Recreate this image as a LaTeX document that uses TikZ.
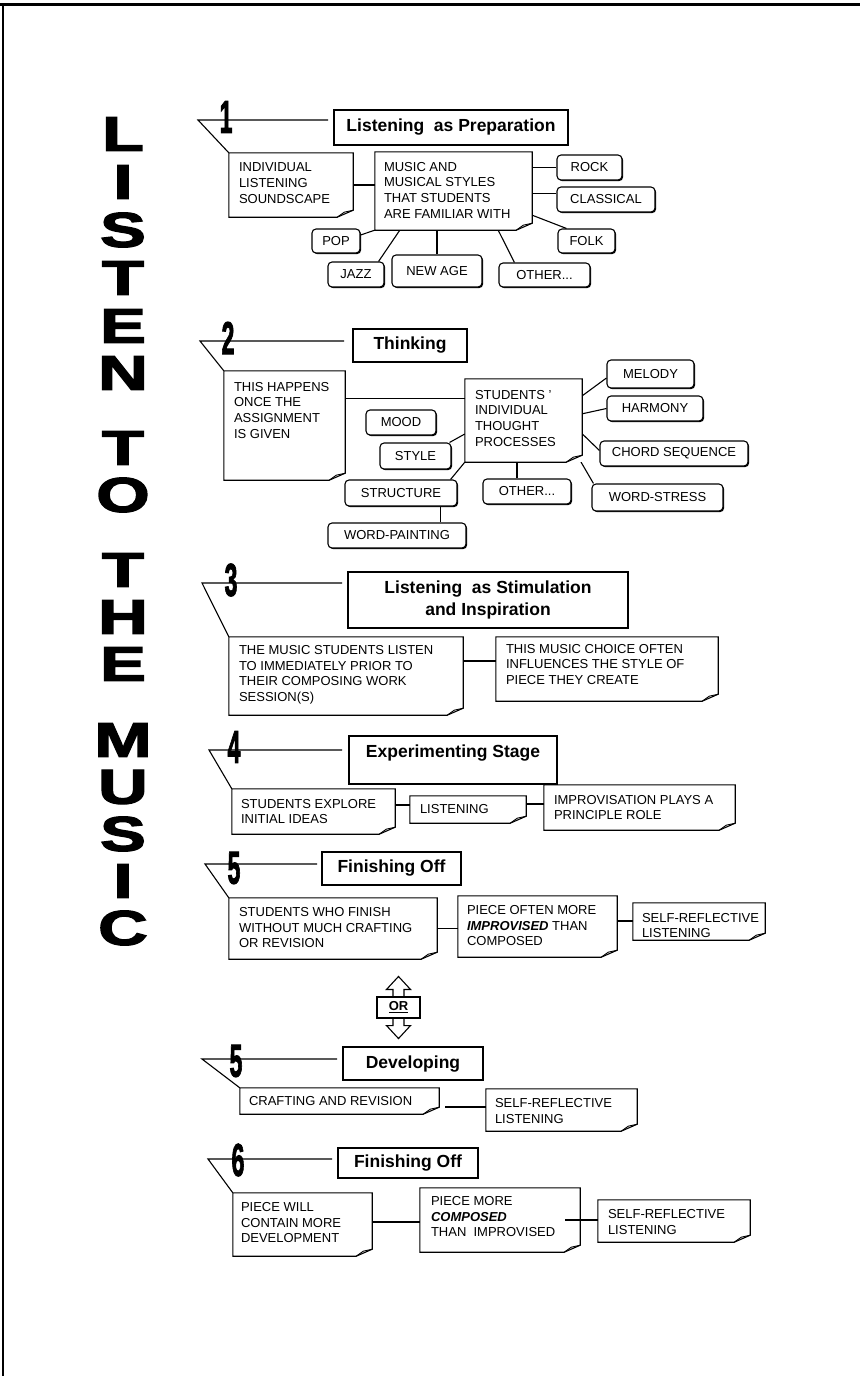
\documentclass[tikz,border=0pt]{standalone}
\usepackage{fontspec}
\setmainfont{Liberation Sans}
\newfontfamily\heavyfont{Liberation Sans}[BoldFeatures={FakeBold=2.5}]
\usetikzlibrary{shadows}
\pgfdeclarelayer{bg}
\pgfsetlayers{bg,main}
\newcommand{\smf}{\fontsize{13}{15.7}\selectfont}
\newcommand{\ttf}{\fontsize{17.5}{22}\selectfont\bfseries}
\newcommand{\digf}{\fontsize{46}{46}\selectfont\heavyfont\bfseries}
\newcommand{\bigf}{\fontsize{49}{49}\selectfont\heavyfont\bfseries}
\tikzset{
  shad/.style={drop shadow={shadow xshift=1.1pt,shadow yshift=-1.1pt,opacity=1,fill=black}},
  tbox/.style={draw, fill=white, line width=1.1pt, font=\ttf, inner sep=0pt, align=center, shad},
  ttxt/.style={font=\ttf, inner sep=0pt},
  rbox/.style={draw, fill=white, rounded corners=4pt, line width=1.1pt, font=\smf, inner sep=0pt, shad},
  nbox/.style={fill=white, draw=none, inner sep=0pt},
  noteline/.style={line width=1.1pt, line join=miter},
  txt/.style={font=\smf, align=left, inner sep=0pt, anchor=north west},
  conn/.style={line width=1.1pt},
  digit/.style={font=\digf, inner sep=0pt},
  bigl/.style={font=\bigf, inner sep=0pt},
}
\newcommand{\noteshape}[1]{%
  \draw[noteline] (#1.north west) -- (#1.north east) -- ([yshift=7pt]#1.south east) -- ([xshift=-16pt]#1.south east) -- (#1.south west) -- cycle;
  \draw[line width=1.5pt] ([xshift=0.5pt]#1.north east) -- ([xshift=0.5pt,yshift=7pt]#1.south east);
  \draw[line width=1.5pt] ([yshift=-0.5pt]#1.south west) -- ([xshift=-16pt,yshift=-0.5pt]#1.south east);
  \draw[line width=0.9pt, line join=miter] ([yshift=7pt]#1.south east) -- ([xshift=-9pt,yshift=5pt]#1.south east) -- ([xshift=-16pt]#1.south east);
}
\begin{document}
\begin{tikzpicture}[x=1pt,y=-1pt]
\begin{pgfonlayer}{bg}
  \fill[white] (0,0) rectangle (860,1376);
\end{pgfonlayer}
\useasboundingbox (0,0) rectangle (860,1376);
\draw[line width=3pt] (0,4) -- (860,4);
\draw[line width=2pt] (3,3) -- (3,1376);

% ---------- vertical title ----------
\node[bigl] (v1) at (123,134) {\scalebox{1.4}[1]{L}};
\node[bigl] (v2) at (123,182) {\scalebox{1.4}[1]{I}};
\node[bigl] (v3) at (123,230) {\scalebox{1.4}[1]{S}};
\node[bigl] (v4) at (123,278) {\scalebox{1.4}[1]{T}};
\node[bigl] (v5) at (123,326) {\scalebox{1.4}[1]{E}};
\node[bigl] (v6) at (123,373) {\scalebox{1.4}[1]{N}};
\node[bigl] (v7) at (123,448) {\scalebox{1.4}[1]{T}};
\node[bigl] (v8) at (123,495) {\scalebox{1.4}[1]{O}};
\node[bigl] (v9) at (123,570) {\scalebox{1.4}[1]{T}};
\node[bigl] (v10) at (123,617) {\scalebox{1.4}[1]{H}};
\node[bigl] (v11) at (123,664) {\scalebox{1.4}[1]{E}};
\node[bigl] (v12) at (123,740) {\scalebox{1.4}[1]{M}};
\node[bigl] (v13) at (123,787) {\scalebox{1.4}[1]{U}};
\node[bigl] (v14) at (123,834) {\scalebox{1.4}[1]{S}};
\node[bigl] (v15) at (123,881) {\scalebox{1.4}[1]{I}};
\node[bigl] (v16) at (123,928) {\scalebox{1.4}[1]{C}};

% ---------- section 1 ----------
\node[tbox, minimum width=234, minimum height=35] (T1) at (451,127.5) {Listening\ \ as Preparation};
\node[nbox, minimum width=124, minimum height=64] (A1) at (291,185) {};
\noteshape{A1}
\node[txt] (A1t) at ([shift={(10,10)}]A1.north west) {INDIVIDUAL\\LISTENING\\SOUNDSCAPE};
\node[nbox, minimum width=157, minimum height=78] (B1) at (453.5,191) {};
\noteshape{B1}
\node[txt] (B1t) at ([shift={(9,10)}]B1.north west) {MUSIC AND\\MUSICAL STYLES\\THAT STUDENTS\\ARE FAMILIAR WITH};
\node[rbox, minimum width=65, minimum height=25] (R1) at (589.5,167.5) {ROCK};
\node[rbox, minimum width=98, minimum height=25] (C1) at (606,199.5) {CLASSICAL};
\node[rbox, minimum width=57, minimum height=24] (F1) at (586.5,241) {FOLK};
\node[rbox, minimum width=48, minimum height=24] (P1) at (336,241) {POP};
\node[rbox, minimum width=56, minimum height=25] (J1) at (356,274.5) {JAZZ};
\node[rbox, minimum width=90, minimum height=32] (N1) at (437,271) {NEW AGE};
\node[rbox, minimum width=91, minimum height=24] (O1) at (544.5,275) {OTHER...};
\coordinate (h1) at (198,120);
\coordinate (h1e) at (328,120);
\coordinate (c1c) at ([yshift=6pt]C1.west);
\begin{pgfonlayer}{bg}
  \draw[conn] (h1e) -- (h1) -- (A1.north west);
  \draw[conn] (A1.east) -- (A1.east -| B1.west);
  \draw[conn] (R1.west -| B1.east) -- (R1.west);
  \draw[conn] (c1c -| B1.east) -- (c1c);
  \draw[conn] ([yshift=15pt]B1.south east) -- ([xshift=9pt]F1.north west);
  \draw[conn] ([yshift=6pt]P1.east) -- (B1.south west);
  \draw[conn] ([xshift=-6pt]J1.north east) -- ([xshift=25pt]B1.south west);
  \draw[conn] (N1.north) -- (N1.north |- B1.south);
  \draw[conn] ([xshift=16pt]O1.north west) -- ([xshift=-34pt]B1.south east);
\end{pgfonlayer}
\node[digit] (n1) at (226,117) {\scalebox{0.5}[1]{1}};

% ---------- section 2 ----------
\node[tbox, minimum width=114, minimum height=33] (T2) at (410,345.5) {Thinking};
\node[nbox, minimum width=121, minimum height=109] (A2) at (284.5,425.5) {};
\noteshape{A2}
\node[txt] (A2t) at ([shift={(10,11)}]A2.north west) {THIS HAPPENS\\ONCE THE\\ASSIGNMENT\\IS GIVEN};
\node[nbox, minimum width=117, minimum height=83] (B2) at (523.5,420.5) {};
\noteshape{B2}
\node[txt] (B2t) at ([shift={(10,11)}]B2.north west) {STUDENTS '\\INDIVIDUAL\\THOUGHT\\PROCESSES};
\node[rbox, minimum width=87, minimum height=28] (M2) at (650.5,374) {MELODY};
\node[rbox, minimum width=96, minimum height=25] (H2) at (655,408.5) {HARMONY};
\node[rbox, minimum width=148, minimum height=25] (CS2) at (674,453.5) {CHORD SEQUENCE};
\node[rbox, minimum width=131, minimum height=27] (WS2) at (657.5,497.5) {WORD-STRESS};
\node[rbox, minimum width=88, minimum height=25] (O2) at (527,491.5) {OTHER...};
\node[rbox, minimum width=70, minimum height=25] (MO2) at (401,422.5) {MOOD};
\node[rbox, minimum width=71, minimum height=26] (ST2) at (415.5,456) {STYLE};
\node[rbox, minimum width=112, minimum height=26] (SR2) at (401,493) {STRUCTURE};
\node[rbox, minimum width=138, minimum height=25] (WP2) at (397,535.5) {WORD-PAINTING};
\coordinate (h2) at (200,341);
\coordinate (h2e) at (344,341);
\coordinate (c2a) at ([yshift=22pt]B2.west);
\coordinate (c2o) at ([xshift=-10pt]O2.north);
\coordinate (c2w) at ([xshift=-17pt]SR2.south east);
\begin{pgfonlayer}{bg}
  \draw[conn] (h2e) -- (h2) -- (A2.north west);
  \draw[conn] (A2.east |- c2a) -- (c2a);
  \draw[conn] ([yshift=-17pt]B2.north east) -- ([yshift=-4pt]M2.west);
  \draw[conn] ([yshift=-35pt]B2.north east) -- (H2.west);
  \draw[conn] ([yshift=-55pt]B2.north east) -- ([yshift=3pt]CS2.west);
  \draw[conn] ([xshift=-4pt,yshift=5pt]B2.south east) -- ([xshift=2pt]WS2.north west);
  \draw[conn] (c2o) -- (c2o |- B2.south);
  \draw[conn] ([xshift=-2pt]ST2.north east) -- ([yshift=-13.5pt]B2.west);
  \draw[conn] ([xshift=-7pt]SR2.north east) -- (B2.south west);
  \draw[conn] (c2w) -- (c2w |- WP2.north);
\end{pgfonlayer}
\node[digit] (n2) at (228,338) {\scalebox{0.5}[1]{2}};

% ---------- section 3 ----------
\node[tbox, minimum width=280, minimum height=56] (T3) at (488,600) {Listening\ \ as Stimulation\\and Inspiration};
\node[nbox, minimum width=234, minimum height=78] (A3) at (346,676) {};
\noteshape{A3}
\node[txt] (A3t) at ([shift={(10,8.5)}]A3.north west) {THE MUSIC STUDENTS LISTEN\\TO IMMEDIATELY PRIOR TO\\THEIR COMPOSING WORK\\SESSION(S)};
\node[nbox, minimum width=222, minimum height=64] (B3) at (607,669) {};
\noteshape{B3}
\node[txt] (B3t) at ([shift={(10,7)}]B3.north west) {THIS MUSIC CHOICE OFTEN\\INFLUENCES THE STYLE OF\\PIECE THEY CREATE};
\coordinate (h3) at (202,583);
\coordinate (h3e) at (342,583);
\coordinate (c3) at ([yshift=15pt]A3.east);
\begin{pgfonlayer}{bg}
  \draw[conn] (h3e) -- (h3) -- (A3.north west);
  \draw[conn] (c3) -- (c3 -| B3.west);
\end{pgfonlayer}
\node[digit] (n3) at (231,580) {\scalebox{0.5}[1]{3}};

% ---------- section 4 ----------
\node[tbox, minimum width=208, minimum height=48] (T4) at (453,760) {};
\node[ttxt] (T4t) at (453,753) {Experimenting Stage};
\node[nbox, minimum width=163, minimum height=45] (A4) at (313.5,811.5) {};
\noteshape{A4}
\node[txt] (A4t) at ([shift={(9,10)}]A4.north west) {STUDENTS EXPLORE\\INITIAL IDEAS};
\node[nbox, minimum width=116, minimum height=27] (L4) at (468,809.5) {};
\noteshape{L4}
\node[txt, anchor=west] (L4t) at ([xshift=10pt]L4.west) {LISTENING};
\node[nbox, minimum width=191, minimum height=45] (I4) at (639.5,807.5) {};
\noteshape{I4}
\node[txt] (I4t) at ([shift={(10,10)}]I4.north west) {IMPROVISATION PLAYS A\\PRINCIPLE ROLE};
\coordinate (h4) at (209,750);
\coordinate (h4e) at (342,750);
\coordinate (c4a) at ([yshift=6.5pt]A4.east);
\coordinate (c4b) at ([yshift=5.5pt]L4.east);
\begin{pgfonlayer}{bg}
  \draw[conn] (h4e) -- (h4) -- (A4.north west);
  \draw[conn] (c4a) -- (c4a -| L4.west);
  \draw[conn] (c4b) -- (c4b -| I4.west);
\end{pgfonlayer}
\node[digit] (n4) at (234,747) {\scalebox{0.5}[1]{4}};

% ---------- section 5 ----------
\node[tbox, minimum width=139, minimum height=33] (T5) at (391.5,868.5) {Finishing Off};
\node[nbox, minimum width=208, minimum height=61] (A5) at (333,928.5) {};
\noteshape{A5}
\node[txt] (A5t) at ([shift={(10,9.5)}]A5.north west) {STUDENTS WHO FINISH\\WITHOUT MUCH CRAFTING\\OR REVISION};
\node[nbox, minimum width=159, minimum height=61] (B5) at (537.5,926.5) {};
\noteshape{B5}
\node[txt] (B5t) at ([shift={(9,9.5)}]B5.north west) {PIECE OFTEN MORE\\\textbf{\textit{IMPROVISED}} THAN\\COMPOSED};
\node[nbox, minimum width=132, minimum height=37] (C5) at (699,921.5) {};
\noteshape{C5}
\node[txt] (C5t) at ([shift={(9,10)}]C5.north west) {SELF-REFLECTIVE\\LISTENING};
\coordinate (h5) at (205,864);
\coordinate (h5e) at (317,864);
\coordinate (c5b) at ([yshift=5.5pt]B5.east);
\begin{pgfonlayer}{bg}
  \draw[conn] (h5e) -- (h5) -- (A5.north west);
  \draw[conn] (A5.east) -- (A5.east -| B5.west);
  \draw[conn] (c5b) -- (c5b -| C5.west);
\end{pgfonlayer}
\node[digit] (n5) at (234,868) {\scalebox{0.5}[1]{5}};

% ---------- OR ----------
\node[draw, fill=white, line width=1.1pt, minimum width=43, minimum height=21, inner sep=0pt, font=\smf\bfseries] (OR) at (398.5,1007.5) {\underline{OR}};
\draw[conn, line join=miter] ([xshift=-5.5pt]OR.north) -- ++(0,-7) -- ++(-6.5,0) -- ++(12,-13) -- ++(12,13) -- ++(-6.5,0) -- ++(0,7);
\draw[conn, line join=miter] ([xshift=-5.5pt]OR.south) -- ++(0,7) -- ++(-6.5,0) -- ++(12,13) -- ++(12,-13) -- ++(-6.5,0) -- ++(0,-7);

% ---------- developing ----------
\node[tbox, minimum width=140, minimum height=33] (TD) at (413,1063.5) {Developing};
\node[nbox, minimum width=199, minimum height=26] (AD) at (339.5,1101) {};
\noteshape{AD}
\node[txt, anchor=west] (ADt) at ([xshift=9pt]AD.west) {CRAFTING AND REVISION};
\node[nbox, minimum width=151, minimum height=42] (BD) at (561.5,1110) {};
\noteshape{BD}
\node[txt] (BDt) at ([shift={(9,9.5)}]BD.north west) {SELF-REFLECTIVE\\LISTENING};
\coordinate (hd) at (202,1059);
\coordinate (hde) at (337,1059);
\coordinate (cd) at ([xshift=6pt,yshift=-6pt]AD.east);
\begin{pgfonlayer}{bg}
  \draw[conn] (hde) -- (hd) -- (AD.north west);
  \draw[conn] (cd) -- (cd -| BD.west);
\end{pgfonlayer}
\node[digit] (nd) at (236,1061) {\scalebox{0.5}[1]{5}};

% ---------- section 6 ----------
\node[tbox, minimum width=140, minimum height=30] (T6) at (408,1163) {Finishing Off};
\node[nbox, minimum width=139, minimum height=63] (A7) at (302.5,1224.5) {};
\noteshape{A7}
\node[txt] (A7t) at ([shift={(8,9.5)}]A7.north west) {PIECE WILL\\CONTAIN MORE\\DEVELOPMENT};
\node[nbox, minimum width=160, minimum height=64] (B7) at (500,1220) {};
\noteshape{B7}
\node[txt] (B7t) at ([shift={(11,8.5)}]B7.north west) {PIECE MORE\\\textbf{\textit{COMPOSED}}\\THAN\ \ IMPROVISED};
\node[nbox, minimum width=152, minimum height=42] (C7) at (674,1221) {};
\noteshape{C7}
\node[txt] (C7t) at ([shift={(10,9.5)}]C7.north west) {SELF-REFLECTIVE\\LISTENING};
\coordinate (h6) at (208,1159);
\coordinate (h6e) at (332,1159);
\coordinate (c7a) at ([yshift=2.5pt]A7.east);
\begin{pgfonlayer}{bg}
  \draw[conn] (h6e) -- (h6) -- (A7.north west);
  \draw[conn] (c7a) -- (c7a -| B7.west);
\end{pgfonlayer}
\draw[conn] ([xshift=-15pt]B7.east) -- (B7.east -| C7.west);
\node[digit] (n6) at (238,1160) {\scalebox{0.5}[1]{6}};
\end{tikzpicture}
\end{document}
